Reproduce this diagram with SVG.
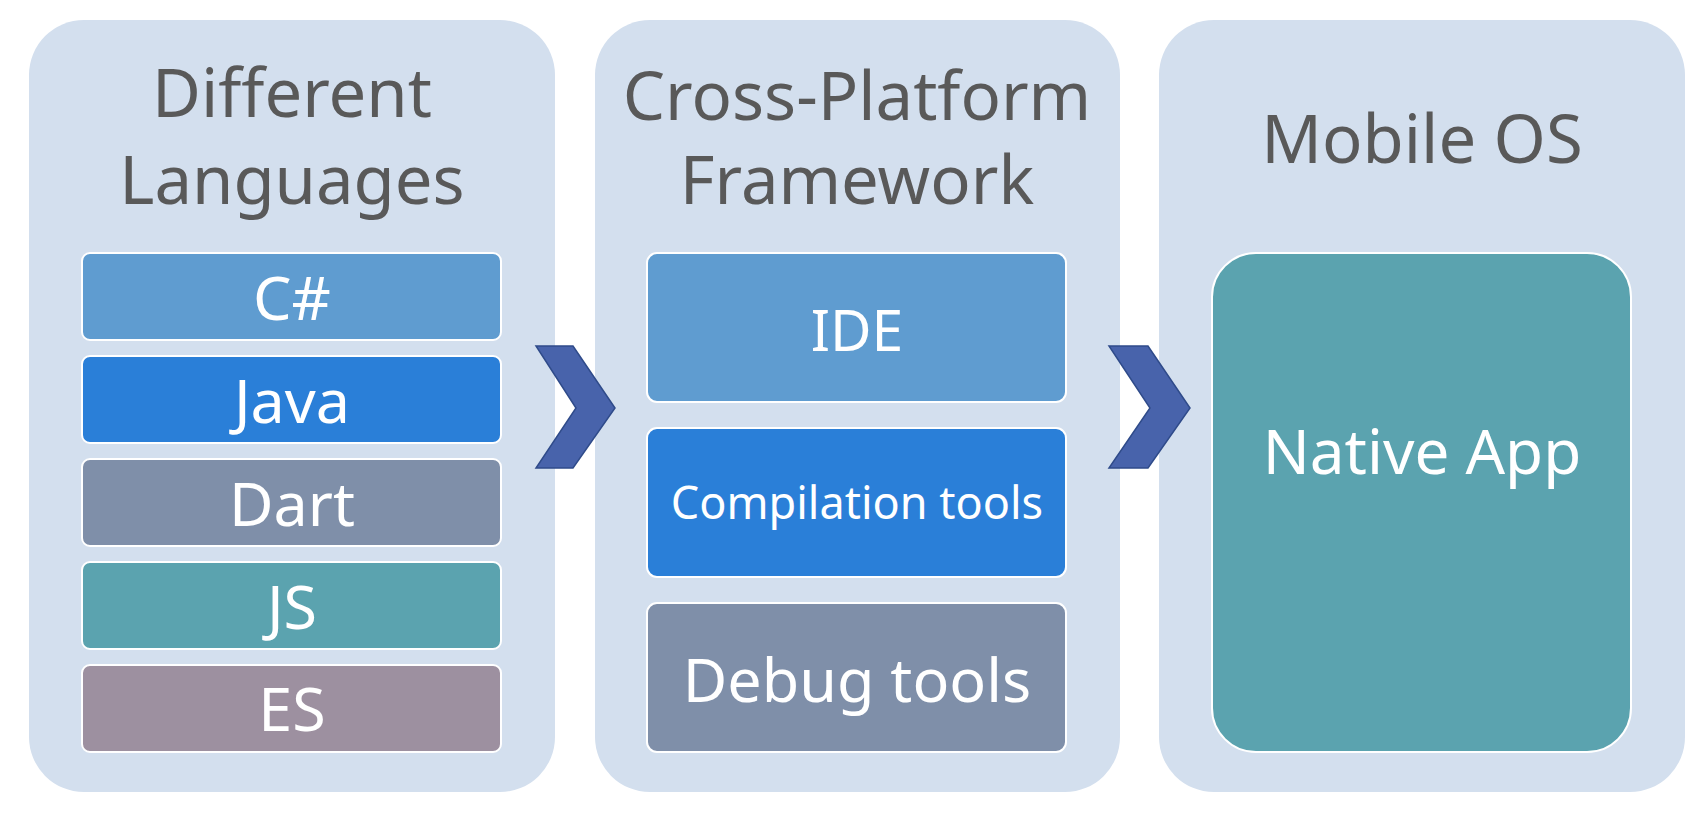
<svg xmlns="http://www.w3.org/2000/svg" width="1705" height="816" viewBox="0 0 1705 816">
<style>
.panel{fill:#D3DFEE}
.box{stroke:#FFFFFF;stroke-width:2}
.title{font-family:"Noto Sans","Open Sans",sans-serif;fill:#595959;font-size:67px;text-anchor:middle}
.lbl{font-family:"Noto Sans","Open Sans",sans-serif;fill:#FFFFFF;font-size:61px;text-anchor:middle}
.chev{fill:#4863AB;stroke:#2F4B8A;stroke-width:1.5}
</style>
<rect width="1705" height="816" fill="#FFFFFF"/>
<g id="panel-languages">
<rect class="panel" x="29" y="20" width="526" height="772" rx="55"/>
<text class="title" x="292" y="117">Different</text>
<text class="title" x="292" y="204">Languages</text>
</g>
<g id="node-csharp"><rect class="box" x="82" y="253" width="419" height="87" rx="8" fill="#5F9CD0"/><text class="lbl" x="292" y="320">C#</text></g>
<g id="node-java"><rect class="box" x="82" y="356" width="419" height="87" rx="8" fill="#2A7FD8"/><text class="lbl" x="292" y="423">Java</text></g>
<g id="node-dart"><rect class="box" x="82" y="459" width="419" height="87" rx="8" fill="#7F8FA9"/><text class="lbl" x="292" y="526">Dart</text></g>
<g id="node-js"><rect class="box" x="82" y="562" width="419" height="87" rx="8" fill="#5BA3AF"/><text class="lbl" x="292" y="629">JS</text></g>
<g id="node-es"><rect class="box" x="82" y="665" width="419" height="87" rx="8" fill="#9D90A0"/><text class="lbl" x="292" y="731">ES</text></g>
<g id="panel-framework">
<rect class="panel" x="595" y="20" width="525" height="772" rx="55"/>
<text class="title" x="857" y="120">Cross-Platform</text>
<text class="title" x="857" y="204">Framework</text>
</g>
<g id="node-ide"><rect class="box" x="647" y="253" width="419" height="149" rx="10" fill="#5F9CD0"/><text class="lbl" x="857" y="351" style="font-size:57px">IDE</text></g>
<g id="node-compilation"><rect class="box" x="647" y="428" width="419" height="149" rx="10" fill="#2A7FD8"/><text class="lbl" x="857" y="519" style="font-size:45px">Compilation tools</text></g>
<g id="node-debug"><rect class="box" x="647" y="603" width="419" height="149" rx="10" fill="#7F8FA9"/><text class="lbl" x="857" y="702">Debug tools</text></g>
<g id="panel-mobile">
<rect class="panel" x="1159" y="20" width="526" height="772" rx="55"/>
<text class="title" x="1422" y="163">Mobile OS</text>
</g>
<g id="node-native"><rect class="box" x="1212" y="253" width="419" height="499" rx="44" fill="#5BA3AF"/><text class="lbl" x="1422" y="474" style="font-size:62px">Native App</text></g>
<g id="connectors">
<polygon class="chev" points="536,346 573,346 615,408 573,468 536,468 576,408"/>
<polygon class="chev" points="1109,346 1148,346 1190,408 1148,468 1109,468 1150,408"/>
</g>
</svg>
